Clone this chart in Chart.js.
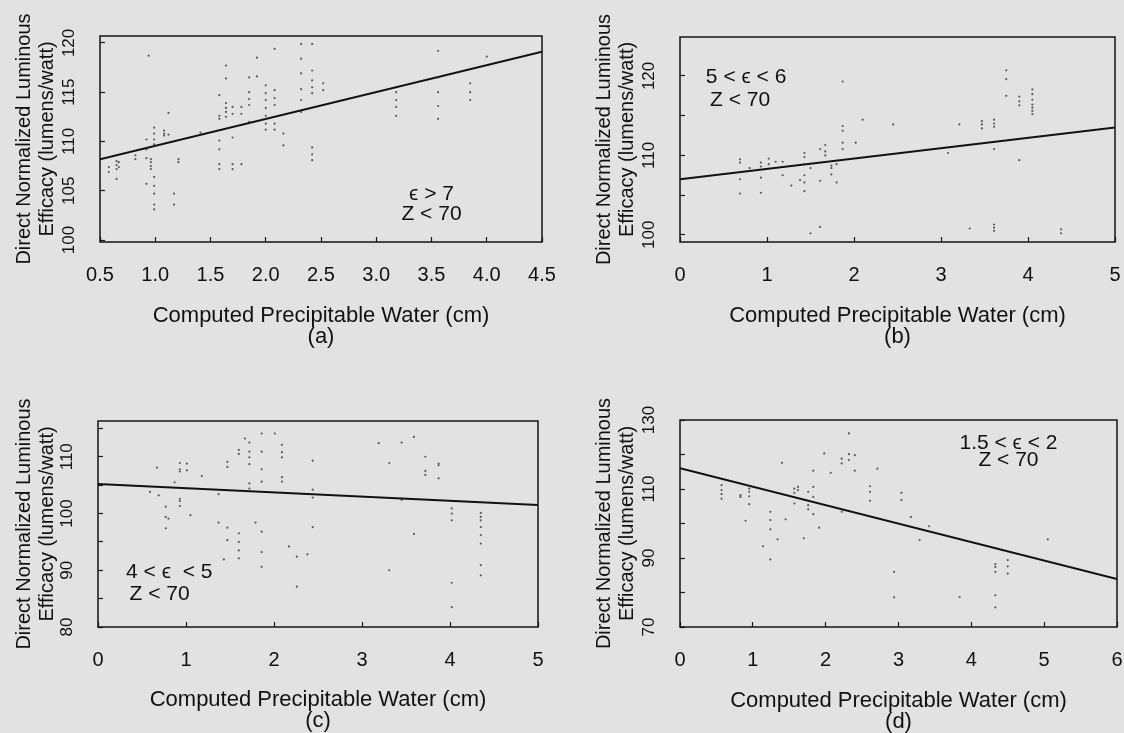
<!DOCTYPE html>
<html>
<head>
<meta charset="utf-8">
<script src="https://cdn.jsdelivr.net/npm/chart.js@4.4.1/dist/chart.umd.min.js"></script>
<style>
  body { margin: 0; background: #e2e2e2; }
  #wrap { position: relative; width: 1124px; height: 733px; overflow: hidden; background: #e2e2e2; }
  canvas { position: absolute; }
</style>
</head>
<body>
<div id="wrap">
  <canvas id="chartA" width="562" height="366" style="left:0;top:0"></canvas>
  <canvas id="chartB" width="562" height="366" style="left:562px;top:0"></canvas>
  <canvas id="chartC" width="562" height="367" style="left:0;top:366px"></canvas>
  <canvas id="chartD" width="562" height="367" style="left:562px;top:366px"></canvas>
</div>
<script>
// (a) eps > 7
const pwA = [0.58,0.58, 0.65,0.65,0.65,0.65, 0.67,0.67, 0.82,0.82, 0.92,0.92,0.92,0.92, 0.94,
  0.96,0.96,0.96,0.96, 0.99,0.99,0.99,0.99,0.99,0.99,0.99,0.99,0.99, 1.08,1.08,1.08, 1.12,1.12,
  1.17,1.17, 1.21,1.21, 1.41, 1.58,1.58,1.58,1.58,1.58,1.58,1.58, 1.64,1.64,1.64,1.64,1.64,1.64,
  1.70,1.70,1.70,1.70,1.70, 1.78,1.78,1.78, 1.85,1.85,1.85,1.85,1.85, 1.92,1.92,
  2.00,2.00,2.00,2.00,2.00,2.00,2.00, 2.08,2.08,2.08,2.08,2.08,2.08, 2.16,2.16,
  2.32,2.32,2.32,2.32,2.32,2.32, 2.42,2.42,2.42,2.42,2.42,2.42,2.42,2.42, 2.52,2.52,
  3.18,3.18,3.18,3.18, 3.56,3.56,3.56,3.56,3.56, 3.85,3.85,3.85, 4.00];
const effA = [107.4,106.9, 108.0,107.6,107.2,106.2, 107.9,107.4, 108.6,108.2, 110.2,109.2,108.3,105.7, 118.7,
  108.2,107.9,107.5,107.2, 111.4,110.8,110.2,109.7,106.4,105.5,104.7,103.6,103.1, 111.1,110.8,110.6, 112.9,110.7,
  104.7,103.6, 108.2,107.9, 110.9, 114.7,112.6,112.3,110.1,109.2,107.7,107.2, 117.7,116.4,113.9,113.4,113.0,112.5,
  113.5,112.8,110.4,107.7,107.2, 113.5,112.8,107.7, 116.5,115.0,114.3,113.7,112.0, 118.5,116.6,
  115.7,114.9,114.2,113.4,112.6,111.8,111.2, 119.4,115.2,114.4,113.7,111.8,111.2, 110.8,109.6,
  119.9,118.4,116.9,115.3,114.2,113.0, 119.9,117.2,116.2,115.5,114.9,109.4,108.7,108.1, 115.9,115.2,
  115.0,114.2,113.5,112.6, 119.2,116.5,115.0,113.6,112.3, 115.9,115.0,114.2, 118.6];
const fitXA = [0.5, 4.5];
const fitYA = [108.2, 119.1];
const xTicksA = [0.5, 1.0, 1.5, 2.0, 2.5, 3.0, 3.5, 4.0, 4.5];
const yTicksA = [100, 105, 110, 115, 120];
const yLabelsA = [100, 105, 110, 115, 120];
const notesA = ['ϵ > 7', 'Z < 70'];
const noteXA = [3.5, 3.5];
const noteYA = [104.7, 102.6];

// (b) 5 < eps < 6
const pwB = [0.69,0.69,0.69,0.69, 0.80, 0.93,0.93,0.93,0.93, 1.02,1.02, 1.10, 1.18,1.18, 1.28, 1.38,
  1.43,1.43,1.43,1.43,1.43,1.43, 1.50,1.50, 1.61,1.61,1.61, 1.67,1.67,1.67, 1.74,1.74,1.74, 1.80,1.80,
  1.87,1.87,1.87,1.87,1.87, 2.02, 2.10, 2.45, 3.08, 3.21, 3.33, 3.47,3.47,3.47,
  3.61,3.61,3.61,3.61,3.61,3.61,3.61, 3.75,3.75,3.75, 3.90,3.90,3.90,3.90,
  4.05,4.05,4.05,4.05,4.05,4.05,4.05, 4.38,4.38];
const effB = [109.5,109.1,107.0,105.2, 108.4, 109.1,108.6,107.2,105.3, 109.6,108.9, 109.2, 109.2,107.5, 106.2, 106.9,
  110.3,109.8,108.9,107.5,106.6,105.5, 108.4,100.2, 110.8,106.8,101.0, 111.3,110.5,110.0, 108.7,108.4,107.6, 108.9,106.6,
  119.3,113.7,113.1,111.6,110.8, 111.6, 114.5, 113.9, 110.3, 113.9, 100.8, 114.3,113.9,113.4,
  114.5,114.0,113.6,110.8,101.3,100.9,100.5, 120.7,119.6,117.5, 117.4,116.8,116.3,109.4,
  118.3,117.7,117.0,116.4,116.0,115.6,115.2, 100.7,100.2];
const fitXB = [0, 5];
const fitYB = [107.0, 113.5];
const xTicksB = [0, 1, 2, 3, 4, 5];
const yTicksB = [100, 105, 110, 115, 120];
const yLabelsB = [100, 110, 120];
const notesB = ['5 < ϵ < 6', 'Z < 70'];
const noteXB = [0.76, 0.69];
const noteYB = [119.8, 116.9];

// (c) 4 < eps < 5
const pwC = [0.59, 0.67, 0.69, 0.77,0.77,0.77, 0.80, 0.87, 0.93,0.93,0.93,0.93,0.93,0.93, 1.01,1.01, 1.05, 1.18,
  1.37,1.37, 1.43, 1.47,1.47,1.47,1.47, 1.60,1.60,1.60,1.60,1.60,1.60, 1.67, 1.72,1.72,1.72,1.72,1.72,1.72, 1.79,
  1.86,1.86,1.86,1.86,1.86,1.86,1.86, 2.01, 2.09,2.09,2.09,2.09,2.09, 2.17, 2.26,2.26, 2.38, 2.44,2.44,2.44,2.44,
  3.19, 3.31,3.31, 3.45,3.45, 3.59,3.59, 3.72,3.72,3.72, 3.87,3.87,3.87, 4.02,4.02,4.02,4.02,4.02,
  4.35,4.35,4.35,4.35,4.35,4.35,4.35,4.35];
const effC = [103.8, 108.1, 103.2, 101.2,99.4,97.4, 99.1, 105.5, 108.9,107.8,107.4,102.6,102.2,101.3, 108.8,107.6, 99.7, 106.6,
  103.4,98.4, 91.9, 109.1,108.2,97.5,95.3, 111.2,110.5,96.5,95.0,93.5,92.1, 113.2, 112.5,110.9,109.9,108.7,105.3,104.4, 98.4,
  114.1,110.9,107.8,105.6,96.8,93.2,90.6, 114.1, 112.1,110.8,109.9,106.4,105.6, 94.2, 92.4,87.1, 92.8, 109.3,104.2,102.8,97.6,
  112.4, 108.9,90.0, 112.5,102.4, 113.5,96.4, 110.0,107.5,106.8, 108.8,108.5,106.2, 100.9,100.0,98.8,87.8,83.5,
  100.1,99.4,98.8,97.6,96.2,94.7,90.9,89.1];
const fitXC = [0, 5];
const fitYC = [105.2, 101.5];
const xTicksC = [0, 1, 2, 3, 4, 5];
const yTicksC = [80, 85, 90, 95, 100, 105, 110, 115];
const yLabelsC = [80, 90, 100, 110];
const notesC = ['4 < ϵ  < 5', 'Z < 70'];
const noteXC = [0.81, 0.70];
const noteYC = [89.6, 85.7];

// (d) 1.5 < eps < 2
const pwD = [0.57,0.57,0.57,0.57, 0.83,0.83, 0.90, 0.95,0.95,0.95,0.95, 1.14, 1.24,1.24,1.24,1.24, 1.34, 1.40, 1.45,
  1.57,1.57,1.57, 1.62,1.62, 1.70, 1.76,1.76,1.76, 1.83,1.83,1.83,1.83, 1.91, 1.98, 2.07, 2.22,2.22,2.22,
  2.32,2.32,2.32, 2.40,2.40, 2.61,2.61,2.61, 2.71, 2.94,2.94, 3.04,3.04, 3.17, 3.29, 3.42, 3.84,
  4.33,4.33,4.33,4.33,4.33, 4.50,4.50,4.50, 5.05];
const effD = [111.1,109.7,108.5,107.2, 108.2,107.7, 100.8, 110.1,109.2,107.9,105.6, 93.4, 103.4,101.0,98.3,89.6, 95.4, 117.6, 101.2,
  110.1,108.9,105.8, 110.6,109.7, 95.7, 109.2,105.3,104.1, 115.3,110.6,107.7,102.7, 98.8, 120.3, 114.7, 118.8,117.4,103.4,
  126.1,120.1,118.4, 119.8,115.3, 110.8,109.2,106.6, 115.9, 86.0,78.6, 108.9,106.8, 101.9, 95.2, 99.2, 78.7,
  88.2,87.4,86.0,79.2,75.7, 89.4,87.6,85.5, 95.4];
const fitXD = [0, 6];
const fitYD = [116.0, 83.9];
const xTicksD = [0, 1, 2, 3, 4, 5, 6];
const yTicksD = [70, 80, 90, 100, 110, 120, 130];
const yLabelsD = [70, 90, 110, 130];
const notesD = ['1.5 < ϵ < 2', 'Z < 70'];
const noteXD = [4.51, 4.51];
const noteYD = [123.4, 118.3];

const FONT = '"Liberation Sans", Arial, sans-serif';
Chart.defaults.font.family = FONT;
Chart.defaults.color = '#111';

// box around the plot + the epsilon / Z notes
const framePlugin = {
  id: 'frame',
  afterDraw(chart, args, opts) {
    const {ctx, chartArea: a, scales} = chart;
    ctx.save();
    ctx.strokeStyle = '#151515';
    ctx.lineWidth = 1.5;
    ctx.strokeRect(a.left, a.top, a.right - a.left, a.bottom - a.top);
    ctx.fillStyle = '#111';
    ctx.font = '21px ' + FONT;
    ctx.textAlign = 'center';
    ctx.textBaseline = 'middle';
    opts.notes.forEach((t, i) => {
      ctx.fillText(t, scales.x.getPixelForValue(opts.nx[i]), scales.y.getPixelForValue(opts.ny[i]));
    });
    ctx.restore();
  }
};

const tickGrid = {drawOnChartArea: false, drawTicks: true, tickLength: -5, tickColor: '#1a1a1a', tickWidth: 1.2};

function makePanel(id, p) {
  const canvas = document.getElementById(id);
  const H = canvas.height;
  const pts = p.xs.map((x, i) => ({x: x, y: p.ys[i]}));
  const fit = p.fx.map((x, i) => ({x: x, y: p.fy[i]}));
  new Chart(canvas, {
    type: 'scatter',
    data: {
      datasets: [
        {data: pts, pointRadius: 1.1, pointBorderWidth: 0, backgroundColor: 'rgba(45,45,45,0.75)'},
        {type: 'line', data: fit, showLine: true, pointRadius: 0, borderColor: '#111', borderWidth: 2}
      ]
    },
    options: {
      responsive: false,
      animation: false,
      layout: {padding: {left: 0, top: p.top, right: p.right, bottom: 0}},
      plugins: {
        legend: {display: false},
        tooltip: {enabled: false},
        frame: {notes: p.notes, nx: p.nx, ny: p.ny}
      },
      scales: {
        x: {
          type: 'linear', min: p.xmin, max: p.xmax,
          border: {display: false},
          grid: tickGrid,
          afterBuildTicks: s => { s.ticks = p.xt.map(v => ({value: v})); },
          afterFit: s => { s.height = H - p.bottom; s.paddingLeft = 0; s.paddingRight = 0; },
          ticks: {autoSkip: false, maxRotation: 0, padding: 26, font: {size: 20},
                  callback: v => p.xfmt ? v.toFixed(1) : String(v)},
          title: {display: true, text: ['Computed Precipitable Water (cm)', p.tag],
                  font: {size: 22, lineHeight: 0.97}, padding: {top: 0, bottom: p.pb}}
        },
        y: {
          type: 'linear', min: p.ymin, max: p.ymax,
          border: {display: false},
          grid: tickGrid,
          afterBuildTicks: s => { s.ticks = p.yt.map(v => ({value: v})); },
          afterFit: s => { s.width = p.left; s.paddingTop = 0; s.paddingBottom = 0; },
          ticks: {autoSkip: false, minRotation: 90, maxRotation: 90, crossAlign: 'center', padding: 22,
                  font: {size: 17}, callback: v => p.yl.includes(v) ? String(v) : ''},
          title: {display: true, text: ['Direct Normalized Luminous', 'Efficacy (lumens/watt)'],
                  font: {size: 20, lineHeight: 1.15}, padding: {top: p.tt, bottom: 0}}
        }
      }
    },
    plugins: [framePlugin]
  });
}

makePanel('chartA', {xs: pwA, ys: effA, fx: fitXA, fy: fitYA, xt: xTicksA, yt: yTicksA, yl: yLabelsA,
  notes: notesA, nx: noteXA, ny: noteYA, xmin: 0.5, xmax: 4.5, ymin: 99.8, ymax: 120.7, xfmt: true,
  left: 100, right: 20, top: 36, bottom: 242, tt: 12.5, pb: 18.5, tag: '(a)'});
makePanel('chartB', {xs: pwB, ys: effB, fx: fitXB, fy: fitYB, xt: xTicksB, yt: yTicksB, yl: yLabelsB,
  notes: notesB, nx: noteXB, ny: noteYB, xmin: 0, xmax: 5, ymin: 99.1, ymax: 124.9, xfmt: false,
  left: 118, right: 9, top: 37, bottom: 242, tt: 30.5, pb: 18.5, tag: '(b)'});
makePanel('chartC', {xs: pwC, ys: effC, fx: fitXC, fy: fitYC, xt: xTicksC, yt: yTicksC, yl: yLabelsC,
  notes: notesC, nx: noteXC, ny: noteYC, xmin: 0, xmax: 5, ymin: 80, ymax: 116.3, xfmt: false,
  left: 98, right: 24, top: 55, bottom: 261, tt: 12.5, pb: 1.5, tag: '(c)'});
makePanel('chartD', {xs: pwD, ys: effD, fx: fitXD, fy: fitYD, xt: xTicksD, yt: yTicksD, yl: yLabelsD,
  notes: notesD, nx: noteXD, ny: noteYD, xmin: 0, xmax: 6, ymin: 70, ymax: 130, xfmt: false,
  left: 118, right: 7, top: 54, bottom: 261, tt: 30.5, pb: 0, tag: '(d)'});
</script>
</body>
</html>
